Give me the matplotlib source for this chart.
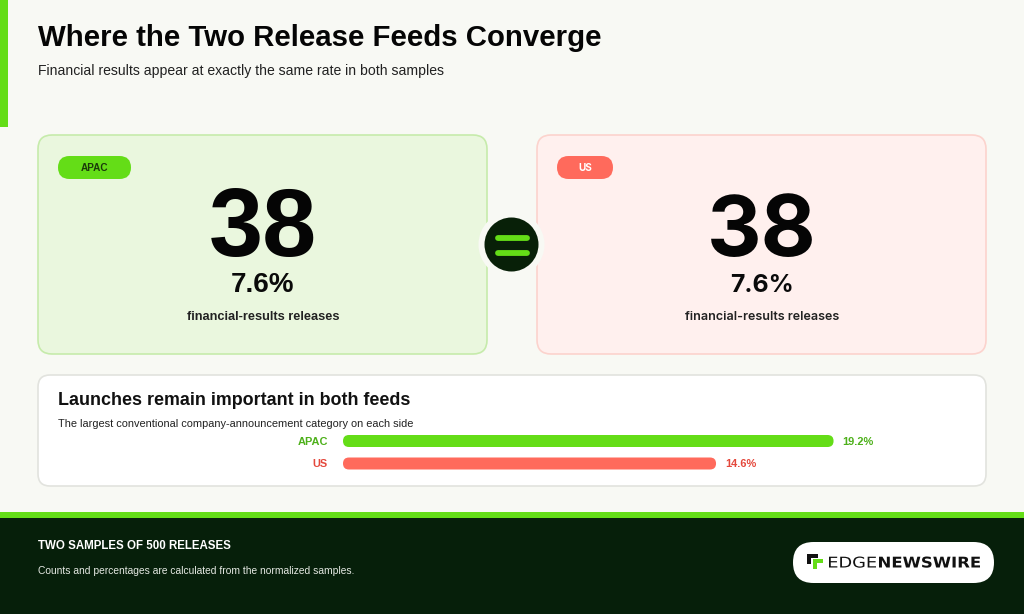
import matplotlib
matplotlib.use("Agg")
import matplotlib.pyplot as plt
from matplotlib.patches import FancyBboxPatch, Circle, Rectangle, PathPatch
from matplotlib.textpath import TextPath
from matplotlib.font_manager import FontProperties
from matplotlib.transforms import Affine2D

# ---------------- data ----------------
regions = ["APAC", "US"]
financial_counts = [38, 38]
financial_pcts = [7.6, 7.6]
launch_pcts = [19.2, 14.6]

title = "Where the Two Release Feeds Converge"
subtitle = "Financial results appear at exactly the same rate in both samples"
card_caption = "financial-results releases"
panel_title = "Launches remain important in both feeds"
panel_sub = "The largest conventional company-announcement category on each side"
foot_head = "TWO SAMPLES OF 500 RELEASES"
foot_text = "Counts and percentages are calculated from the normalized samples."

# ---------------- style ----------------
BG = "#F8F9F4"
GREEN = "#64DD17"
RED = "#FF6A5C"
DARK = "#061F0A"
W, H = 1024, 614

plt.rcParams["font.family"] = ["Liberation Sans", "DejaVu Sans"]

fig = plt.figure(figsize=(W / 100, H / 100), dpi=100)
fig.patch.set_facecolor(BG)
ax = fig.add_axes([0, 0, 1, 1])
ax.set_xlim(0, W)
ax.set_ylim(H, 0)
ax.axis("off")

def rbox(x, y, w, h, r, fc, ec="none", lw=0, z=1):
    p = FancyBboxPatch((x, y), w, h, boxstyle=f"round,pad=0,rounding_size={r}",
                       fc=fc, ec=ec, lw=lw, zorder=z)
    ax.add_patch(p)
    return p

# left accent bar
ax.add_patch(Rectangle((0, 0), 8, 127, fc=GREEN, ec="none", zorder=2))

# title
ax.text(38, 46, title, fontsize=21.2, fontweight="bold", color="#050505", va="baseline", ha="left")
ax.text(38, 75, subtitle, fontsize=10.1, color="#222222", va="baseline", ha="left")

# cards
card_specs = [
    dict(x=38, fc="#EAF7DE", ec="#C6EBAB", pill=GREEN, pill_w=73, pill_tc="#1B3A0A",
         fam=["Liberation Sans", "DejaVu Sans"], big=70, mid=20, small=9.2, pw="bold"),
    dict(x=537, fc="#FFF0EE", ec="#FCD3CD", pill=RED, pill_w=56, pill_tc="white",
         fam=["Inter", "DejaVu Sans"], big=61, mid=17.8, small=9.0, pw="semibold"),
]
card_w, card_h, card_y = 449, 219, 135
for i, spec in enumerate(card_specs):
    x0 = spec["x"]
    rbox(x0, card_y, card_w, card_h, 14, spec["fc"], spec["ec"], 1.2)
    rbox(x0 + 20, 156, spec["pill_w"], 23, 11.5, spec["pill"], z=2)
    ax.text(x0 + 20 + spec["pill_w"] / 2, 168, regions[i], fontsize=7.2, fontweight="bold",
            color=spec["pill_tc"], ha="center", va="center", family=spec["fam"], zorder=3)
    cx = x0 + card_w / 2 + 0.5
    ax.text(cx, 256, f"{financial_counts[i]}", fontsize=spec["big"], fontweight="bold",
            color="#050505", ha="center", va="baseline", family=spec["fam"], zorder=3)
    ax.text(cx, 292, f"{financial_pcts[i]:.1f}%", fontsize=spec["mid"], fontweight="bold",
            color="#0A0A0A", ha="center", va="baseline", family=spec["fam"], zorder=3)
    ax.text(cx, 320, card_caption, fontsize=spec["small"], fontweight=spec["pw"],
            color="#222222", ha="center", va="baseline", family=spec["fam"], zorder=3)

# equals badge
ax.add_patch(Circle((511.5, 244.5), 33, fc=BG, ec="none", zorder=4))
ax.add_patch(Circle((511.5, 244.5), 27, fc="#082008", ec="none", zorder=5))
for yy in (237.5, 253):
    ax.plot([497.5, 526.5], [yy, yy], color=GREEN, lw=4.2, solid_capstyle="round", zorder=6)

# bottom panel
rbox(38, 375, 948, 111, 12, "white", "#E2E3DE", 1.2)
ax.text(58, 405, panel_title, fontsize=12.9, fontweight="bold", color="#111111", va="baseline")
ax.text(58, 427, panel_sub, fontsize=7.9, color="#222222", va="baseline")

# bar axes
bx0, bx1 = 343, 854
row_px = 22.5
top_px = 441 - 0.5 * row_px
bax = fig.add_axes([bx0 / W, 1 - (top_px + 2 * row_px) / H, (bx1 - bx0) / W, 2 * row_px / H])
bax.set_xlim(0, 20)
bax.set_ylim(1.5, -0.5)
bax.axis("off")
bar_colors = [GREEN, RED]
label_colors = ["#4DB01A", "#E4483C"]
bar_h = 12 / row_px
bars = bax.barh(range(len(regions)), launch_pcts, height=bar_h, color=bar_colors)
px_per_x = (bx1 - bx0) / 20
px_per_y = row_px
r_px = 6
for b in bars:
    bx, by, bw, bh = b.get_x(), b.get_y(), b.get_width(), b.get_height()
    fc = b.get_facecolor()
    b.set_visible(False)
    rr = FancyBboxPatch((bx, by), bw, bh,
                        boxstyle=f"round,pad=0,rounding_size={r_px / px_per_x}",
                        mutation_aspect=px_per_x / px_per_y, fc=fc, ec="none")
    bax.add_patch(rr)
for i, v in enumerate(launch_pcts):
    bax.annotate(regions[i], (0, i), xytext=(-11, -0.5), textcoords="offset points",
                 ha="right", va="center", fontsize=7.9, fontweight="bold", color=label_colors[i])
    bax.annotate(f"{v:.1f}%", (v, i), xytext=(6.5, -0.5), textcoords="offset points",
                 ha="left", va="center", fontsize=7.9, fontweight="bold", color=label_colors[i])

# footer
ax.add_patch(Rectangle((0, 512), W, 6, fc=GREEN, ec="none", zorder=2))
ax.add_patch(Rectangle((0, 518), W, H - 518, fc=DARK, ec="none", zorder=2))
ax.text(38, 549, foot_head, fontsize=8.3, fontweight="bold", color="white", va="baseline", zorder=3)
ax.text(38, 574, foot_text, fontsize=7.4, color="#E4E8E2", va="baseline", zorder=3)

# logo pill
rbox(793, 542, 201, 41, 20.5, "white", z=3)
# icon
ax.add_patch(Rectangle((807, 554), 11, 3.5, fc="#111111", ec="none", zorder=4))
ax.add_patch(Rectangle((807, 554), 3.5, 10, fc="#111111", ec="none", zorder=4))
ax.add_patch(Rectangle((813, 559), 10, 3.5, fc=GREEN, ec="none", zorder=4))
ax.add_patch(Rectangle((813, 559), 3.5, 9.5, fc=GREEN, ec="none", zorder=4))

def fit_text(s, x0, x1, base, cap, weight):
    fp = FontProperties(family="DejaVu Sans", weight=weight)
    tp = TextPath((0, 0), s, size=100, prop=fp)
    ext = tp.get_extents()
    sx = (x1 - x0) / ext.width
    sy = cap / 72.9
    tr = Affine2D().translate(-ext.x0, 0).scale(sx, -sy).translate(x0, base)
    ax.add_patch(PathPatch(tr.transform_path(tp), fc="#111111", ec="none", zorder=4))

fit_text("EDGE", 829, 876, 567.5, 10.8, "normal")
fit_text("NEWSWIRE", 879, 980, 567.5, 10.8, "bold")

fig.savefig("out.png", dpi=100, facecolor=BG)
